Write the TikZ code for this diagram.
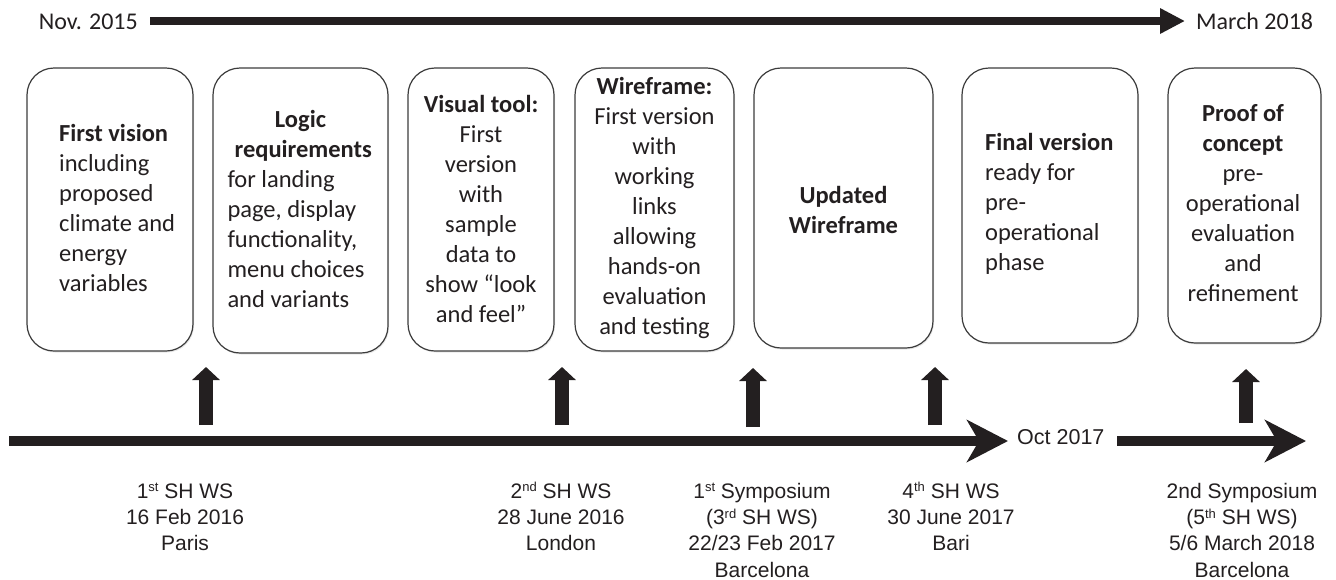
\documentclass[tikz,border=0pt]{standalone}
\usepackage{fontspec}
\setmainfont{Carlito}
\newfontfamily\arialf{Liberation Sans}
\usetikzlibrary{arrows.meta,shadows}
\definecolor{txtc}{RGB}{35,31,32}
\definecolor{boxc}{RGB}{60,60,60}
\newcommand\sups[1]{\raisebox{6.5pt}{\fontsize{13}{13}\selectfont #1}}
\begin{document}
\begin{tikzpicture}[x=1pt,y=-1pt,
  phase/.style={draw=boxc, line width=1.2pt, rounded corners=27pt, fill=white,
    drop shadow={opacity=0.18, shadow xshift=1pt, shadow yshift=-1.5pt}},
  btxt/.style={font=\fontsize{24.5}{30}\selectfont, text=txtc, inner sep=0pt},
  lbl/.style={font=\fontsize{24}{29}\selectfont, text=txtc, inner sep=0pt},
  evt/.style={font=\arialf\fontsize{21}{26.3}\selectfont, align=center, inner sep=0pt, anchor=north, text=txtc},
  tl/.style={line width=10pt, draw=txtc, -{Stealth[length=41pt,width=42pt,inset=12pt]}},
  up/.style={line width=14pt, draw=txtc, -{Triangle[length=13pt,width=27pt]}},
  topar/.style={line width=8pt, draw=txtc, -{Triangle[length=25pt,width=24pt]}},
]
\useasboundingbox (0,0) rectangle (1336,579);

% top time arrow
\node[lbl, anchor=base east] (nov) at (138,29) {Nov. 2015};
\node[lbl, anchor=base west] (mar) at (1196,29) {March 2018};
\coordinate (ts) at (150,21);
\coordinate (te) at (1185,21);
\draw[topar] (ts) -- (te);

% phase boxes
\node[phase, minimum width=166pt, minimum height=283pt] (b1) at (110,209.5) {};
\node[phase, minimum width=175pt, minimum height=285pt] (b2) at (300.5,210.5) {};
\node[phase, minimum width=146pt, minimum height=283pt] (b3) at (481,209.5) {};
\node[phase, minimum width=159pt, minimum height=283pt] (b4) at (654.5,209.5) {};
\node[phase, minimum width=179pt, minimum height=280pt] (b5) at (843.5,208) {};
\node[phase, minimum width=176pt, minimum height=275pt] (b6) at (1050,205.5) {};
\node[phase, minimum width=153pt, minimum height=275pt] (b7) at (1244.5,205.5) {};

% box texts
\node[btxt, align=left, anchor=west] (t1) at (59,208) {\textbf{First vision}\\including\\proposed\\climate and\\energy\\variables};
\node[btxt, align=left, text width=146pt] (t2) at (300.5,209) {\spaceskip=0pt\xspaceskip=0pt{\centering\bfseries Logic\par\ requirements\par}for landing\par page, display\par functionality,\par menu choices\par and variants\par};
\node[btxt, align=center] (t3) at (481,208.5) {\textbf{Visual tool:}\\First\\version\\with\\sample\\data to\\show “look\\and feel”};
\node[btxt, align=center] (t4) at (654.5,208) {\textbf{Wireframe:}\\First version\\with\\working\\links\\allowing\\hands-on\\evaluation\\and testing};
\node[btxt, align=center, font=\fontsize{24.5}{30}\selectfont\bfseries] (t5) at (843.5,210) {Updated\\Wireframe};
\node[btxt, align=left, anchor=west] (t6) at (985,204) {\textbf{Final version}\\ready for\\pre-\\operational\\phase};
\node[btxt, align=center] (t7) at (1243,203) {\textbf{Proof of}\\\textbf{concept}\\pre-\\operational\\evaluation\\and\\refinement};

% upward arrows
\foreach \n/\x/\a/\b in {1/206/425/367, 2/562/425/367, 3/753/427/368, 4/935/425/367, 5/1246/423/369} {
  \coordinate (u\n s) at (\x,\a);
  \coordinate (u\n e) at (\x,\b);
  \draw[up] (u\n s) -- (u\n e);
}

% bottom timeline
\coordinate (l1s) at (9,441);
\coordinate (l1e) at (1008,441);
\draw[tl] (l1s) -- (l1e);
\node[font=\arialf\fontsize{21.5}{26}\selectfont, text=txtc, inner sep=0pt, anchor=base west] (oct) at (1017,444) {Oct 2017};
\coordinate (l2s) at (1117,441);
\coordinate (l2e) at (1306,441);
\draw[tl] (l2s) -- (l2e);

% events
\node[evt] (e1) at (185,480) {\rule{0pt}{18pt}1\sups{st} SH WS\\16 Feb 2016\\Paris};
\node[evt] (e2) at (561,480) {\rule{0pt}{18pt}2\sups{nd} SH WS\\28 June 2016\\London};
\node[evt] (e3) at (762,480) {\rule{0pt}{18pt}1\sups{st} Symposium\\(3\sups{rd} SH WS)\\22/23 Feb 2017\\Barcelona};
\node[evt] (e4) at (951,480) {\rule{0pt}{18pt}4\sups{th} SH WS\\30 June 2017\\Bari};
\node[evt] (e5) at (1242,480) {\rule{0pt}{18pt}2nd Symposium\\(5\sups{th} SH WS)\\5/6 March 2018\\Barcelona};
\end{tikzpicture}
\end{document}
